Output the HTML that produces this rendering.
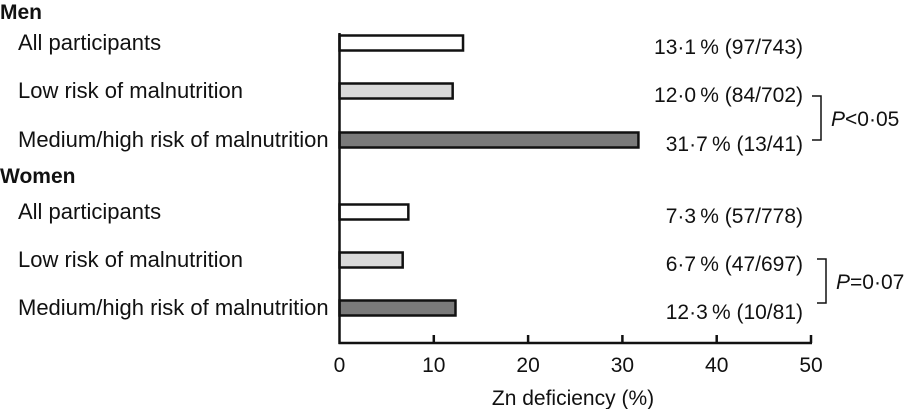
<!DOCTYPE html>
<html><head><meta charset="utf-8"><style>
body{margin:0;background:#fff;width:909px;height:409px;overflow:hidden}
svg text{font-family:"Liberation Sans",Arial,sans-serif;fill:#111}
</style></head><body>
<svg id="chart" width="909" height="409" viewBox="0 0 909 409" xmlns="http://www.w3.org/2000/svg">
<text x="0" y="19" font-size="21" font-weight="bold">Men</text>
<text x="0" y="183" font-size="21" font-weight="bold">Women</text>
<g id="marks"></g>
<line x1="339.5" y1="33" x2="339.5" y2="344" stroke="#111" stroke-width="2.5"/>
<line x1="338.5" y1="343" x2="812" y2="343" stroke="#111" stroke-width="2.5"/>
<g id="ticks"></g>
<text x="573" y="405" font-size="21" text-anchor="middle">Zn deficiency (%)</text>
<path d="M812 96 H821 V140 H812" fill="none" stroke="#111" stroke-width="1.5"/>
<text x="831" y="126" font-size="21"><tspan font-style="italic">P</tspan>&lt;0·05</text>
<path d="M817 259 H826 V303 H817" fill="none" stroke="#111" stroke-width="1.5"/>
<text x="836" y="289" font-size="21"><tspan font-style="italic">P</tspan>=0·07</text>
</svg>
<script>
const categories=["All participants","Low risk of malnutrition","Medium/high risk of malnutrition","All participants","Low risk of malnutrition","Medium/high risk of malnutrition"];
const values=[13.1,12.0,31.7,7.3,6.7,12.3];
const valueLabels=["13·1\u2009% (97/743)","12·0\u2009% (84/702)","31·7\u2009% (13/41)","7·3\u2009% (57/778)","6·7\u2009% (47/697)","12·3\u2009% (10/81)"];
const groups=["men","men","men","women","women","women"];
const tickValues=[0,10,20,30,40,50];
const rowCenters=[43,91,140,212,260,308];
const fills=["#fff","#d9d9d9","#7a7a7a"];
const NS="http://www.w3.org/2000/svg";
function xScale(v){return 339.5+v*(811-339.5)/50;}
const marks=document.getElementById('marks');
function mk(tag,attrs,parent){const e=document.createElementNS(NS,tag);for(const k in attrs)e.setAttribute(k,attrs[k]);parent.appendChild(e);return e;}
values.forEach((v,i)=>{
  const cy=rowCenters[i];
  const r=mk('rect',{x:xScale(0),y:cy-7.5,width:xScale(v)-xScale(0),height:15,fill:fills[i%3],stroke:'#111','stroke-width':2.5},marks);
  
  
  const t=mk('text',{x:18,y:cy+7,'font-size':22},marks);t.textContent=categories[i];
  
  
  const vl=mk('text',{x:803,y:cy+11,'font-size':21,'text-anchor':'end'},marks);vl.textContent=valueLabels[i];
  
  
});
const ticks=document.getElementById('ticks');
tickValues.forEach(v=>{
  const x=xScale(v);
  if(v>0){const l=mk('line',{x1:x,y1:335,x2:x,y2:343,stroke:'#111','stroke-width':2.5},ticks);
  
  }
  const t=mk('text',{x:x,y:372,'font-size':21,'text-anchor':'middle'},ticks);t.textContent=v;
  
  
});
</script>
</body></html>
